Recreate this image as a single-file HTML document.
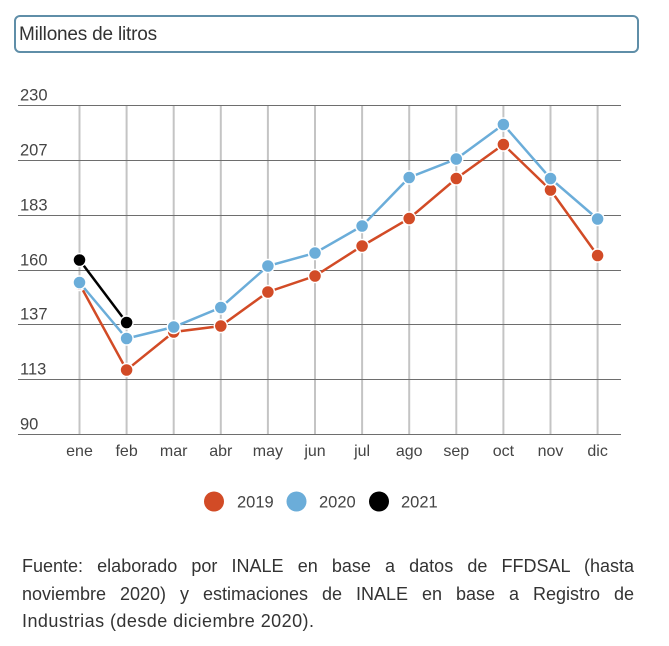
<!DOCTYPE html>
<html><head><meta charset="utf-8">
<style>
html,body{margin:0;padding:0;background:#fff;}
body{width:669px;height:646px;position:relative;overflow:hidden;font-family:"Liberation Sans",sans-serif;}
.box{position:absolute;left:14px;top:15px;width:621px;height:34px;border:2px solid #5f8ea8;border-radius:6px;}
.box span{position:absolute;left:3px;top:7px;font-size:19px;color:#333;letter-spacing:-0.2px;}
.foot{position:absolute;left:22px;width:612px;font-size:18px;line-height:28px;color:#333;white-space:nowrap;}
.j{text-align:justify;text-align-last:justify;}
</style></head><body>
<div class="box"><span>Millones de litros</span></div>
<svg width="669" height="646" style="position:absolute;left:0;top:0" xmlns="http://www.w3.org/2000/svg">
<g stroke="#c4c4c4" stroke-width="2">
<line x1="79.5" y1="105.5" x2="79.5" y2="434"/>
<line x1="126.6" y1="105.5" x2="126.6" y2="434"/>
<line x1="173.7" y1="105.5" x2="173.7" y2="434"/>
<line x1="220.8" y1="105.5" x2="220.8" y2="434"/>
<line x1="267.9" y1="105.5" x2="267.9" y2="434"/>
<line x1="315" y1="105.5" x2="315" y2="434"/>
<line x1="362.1" y1="105.5" x2="362.1" y2="434"/>
<line x1="409.2" y1="105.5" x2="409.2" y2="434"/>
<line x1="456.3" y1="105.5" x2="456.3" y2="434"/>
<line x1="503.4" y1="105.5" x2="503.4" y2="434"/>
<line x1="550.5" y1="105.5" x2="550.5" y2="434"/>
<line x1="597.6" y1="105.5" x2="597.6" y2="434"/>
</g>
<g stroke="#6e6e6e" stroke-width="1">
<line x1="18" y1="105.5" x2="621" y2="105.5"/>
<line x1="18" y1="160.5" x2="621" y2="160.5"/>
<line x1="18" y1="215.5" x2="621" y2="215.5"/>
<line x1="18" y1="270.5" x2="621" y2="270.5"/>
<line x1="18" y1="324.5" x2="621" y2="324.5"/>
<line x1="18" y1="379.5" x2="621" y2="379.5"/>
<line x1="18" y1="434.5" x2="621" y2="434.5"/>
</g>
<g font-family="Liberation Sans, sans-serif" font-size="16.5" fill="#444">
<text x="20" y="100.5">230</text>
<text x="20" y="155.5">207</text>
<text x="20" y="210.5">183</text>
<text x="20" y="265.5">160</text>
<text x="20" y="319.5">137</text>
<text x="20" y="374.5">113</text>
<text x="20" y="429.5">90</text>
</g>
<g font-family="Liberation Sans, sans-serif" font-size="16" fill="#444" text-anchor="middle">
<text x="79.5" y="456">ene</text>
<text x="126.6" y="456">feb</text>
<text x="173.7" y="456">mar</text>
<text x="220.8" y="456">abr</text>
<text x="267.9" y="456">may</text>
<text x="315" y="456">jun</text>
<text x="362.1" y="456">jul</text>
<text x="409.2" y="456">ago</text>
<text x="456.3" y="456">sep</text>
<text x="503.4" y="456">oct</text>
<text x="550.5" y="456">nov</text>
<text x="597.6" y="456">dic</text>
</g>
<!-- 2019 -->
<polyline fill="none" stroke="#d24b26" stroke-width="2.5" points="79.5,284 126.6,370 173.7,332 220.8,326 267.9,292 315,276 362.1,246 409.2,218.5 456.3,178.5 503.4,144.5 550.5,190 597.6,255.5"/>
<g fill="#d24b26" stroke="#fff" stroke-width="1.5">
<circle cx="79.5" cy="284" r="6.5"/><circle cx="126.6" cy="370" r="6.5"/><circle cx="173.7" cy="332" r="6.5"/><circle cx="220.8" cy="326" r="6.5"/><circle cx="267.9" cy="292" r="6.5"/><circle cx="315" cy="276" r="6.5"/><circle cx="362.1" cy="246" r="6.5"/><circle cx="409.2" cy="218.5" r="6.5"/><circle cx="456.3" cy="178.5" r="6.5"/><circle cx="503.4" cy="144.5" r="6.5"/><circle cx="550.5" cy="190" r="6.5"/><circle cx="597.6" cy="255.5" r="6.5"/>
</g>
<!-- 2020 -->
<polyline fill="none" stroke="#6badd9" stroke-width="2.5" points="79.5,282.5 126.6,338.5 173.7,327 220.8,307.5 267.9,266 315,253 362.1,226 409.2,177.5 456.3,159 503.4,124.5 550.5,178.5 597.6,219"/>
<g fill="#6badd9" stroke="#fff" stroke-width="1.5">
<circle cx="79.5" cy="282.5" r="6.5"/><circle cx="126.6" cy="338.5" r="6.5"/><circle cx="173.7" cy="327" r="6.5"/><circle cx="220.8" cy="307.5" r="6.5"/><circle cx="267.9" cy="266" r="6.5"/><circle cx="315" cy="253" r="6.5"/><circle cx="362.1" cy="226" r="6.5"/><circle cx="409.2" cy="177.5" r="6.5"/><circle cx="456.3" cy="159" r="6.5"/><circle cx="503.4" cy="124.5" r="6.5"/><circle cx="550.5" cy="178.5" r="6.5"/><circle cx="597.6" cy="219" r="6.5"/>
</g>
<!-- 2021 -->
<polyline fill="none" stroke="#000" stroke-width="2.5" points="79.5,260 126.6,322.5"/>
<g fill="#000" stroke="#fff" stroke-width="1.5">
<circle cx="79.5" cy="260" r="6.5"/><circle cx="126.6" cy="322.5" r="6.5"/>
</g>
<!-- legend -->
<circle cx="214" cy="501.5" r="10" fill="#d24b26"/>
<circle cx="296.5" cy="501.5" r="10" fill="#6badd9"/>
<circle cx="379" cy="501.5" r="10" fill="#000"/>
<g font-family="Liberation Sans, sans-serif" font-size="16.5" fill="#444">
<text x="237" y="507.5">2019</text>
<text x="319" y="507.5">2020</text>
<text x="401" y="507.5">2021</text>
</g>
</svg>
<div class="foot j" style="top:552px">Fuente: elaborado por INALE en base a datos de FFDSAL (hasta</div>
<div class="foot j" style="top:580px">noviembre 2020) y estimaciones de INALE en base a Registro de</div>
<div class="foot" style="top:607px;letter-spacing:0.45px">Industrias (desde diciembre 2020).</div>
</body></html>
